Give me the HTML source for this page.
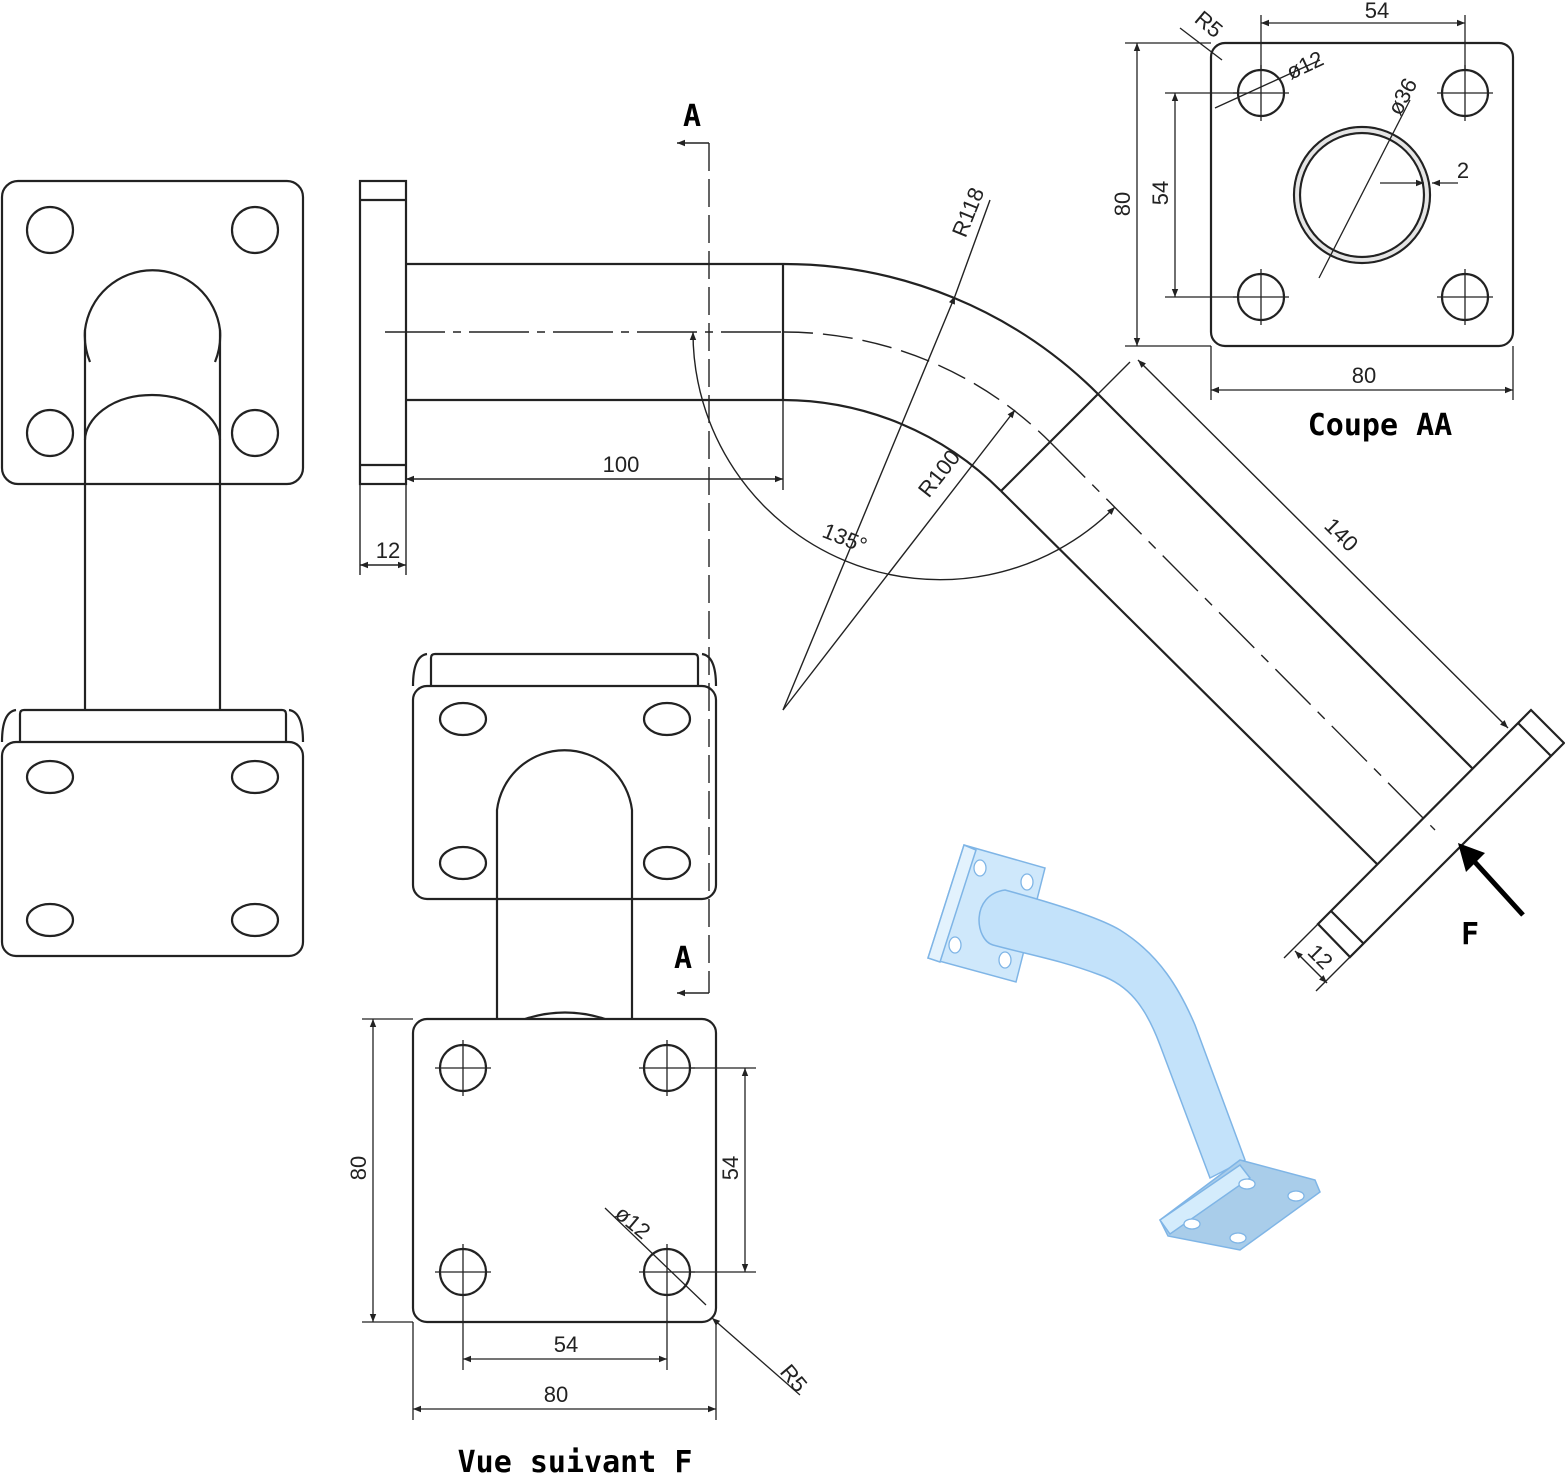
<!DOCTYPE html>
<html><head><meta charset="utf-8"><style>
html,body{margin:0;padding:0;background:#fff}
svg{display:block}
text{font-family:"Liberation Sans","DejaVu Sans",sans-serif;fill:#222}
.t{font-size:22px}
.b{font-family:"DejaVu Sans Mono","Liberation Mono",monospace;font-weight:bold;font-size:30px;fill:#000}
</style></head><body>
<svg width="1565" height="1474" viewBox="0 0 1565 1474" xmlns="http://www.w3.org/2000/svg">
<defs>
<marker id="a" viewBox="0 0 10 10" refX="10" refY="5" markerWidth="10" markerHeight="8" orient="auto-start-reverse" markerUnits="userSpaceOnUse"><path d="M0,1 L10,5 L0,9 z" fill="#222"/></marker>
</defs>
<g fill="none" stroke="#222" stroke-width="2.2">
<rect x="2" y="181" width="301" height="303" rx="16"/>
<circle cx="50" cy="230" r="23"/><circle cx="255" cy="230" r="23"/>
<circle cx="50" cy="433" r="23"/><circle cx="255" cy="433" r="23"/>
<path d="M90,362 A70,70 0 0 1 85,330 A68,68 0 0 1 220,330 A70,70 0 0 1 215,362"/>
<path d="M85,330 V710 M220,330 V710"/>
<path d="M85,440 C85,420 110,395 152,395 C194,395 220,420 220,440"/>
<path d="M20,742 V714 Q20,710 24,710 H282 Q286,710 286,714 V742"/>
<path d="M2,742 Q2,712 16,710 M303,742 Q303,712 289,710"/>
<rect x="2" y="742" width="301" height="214" rx="14"/>
<ellipse cx="50" cy="777" rx="23" ry="16"/><ellipse cx="255" cy="777" rx="23" ry="16"/>
<ellipse cx="50" cy="920" rx="23" ry="16"/><ellipse cx="255" cy="920" rx="23" ry="16"/>

<rect x="360" y="181" width="46" height="303"/>
<path d="M360,200 H406 M360,465 H406"/>
<path d="M406,264 H783 M406,400 H783 M783,264 V400"/>
<path d="M783,264 A445,445 0 0 1 1098,394"/>
<path d="M783,400 A309,309 0 0 1 1001,491"/>
<path d="M1001,491 L1098,394"/>
<path d="M1098,394 L1472,768 M1001,491 L1378,865"/>
<path d="M1531,710 L1564,743 L1350,957 L1318,924 Z"/>
<path d="M1518,723 L1551,756 M1331,911 L1363,943"/>
</g>
<g fill="none" stroke="#222" stroke-width="1.4">
<path d="M385,332 H783" stroke-dasharray="60,8,8,8"/>
<path d="M783,332 A377,377 0 0 1 1050,442" stroke-dasharray="30,10"/>
<path d="M1050,442 L1435,830" stroke-dasharray="50,10,10,10"/>
<path d="M709,143 V993" stroke-dasharray="28,8"/>
<path d="M709,143 H677" marker-end="url(#a)"/>
<path d="M709,993 H677" marker-end="url(#a)"/>
<path d="M406,479 H783" marker-start="url(#a)" marker-end="url(#a)"/>
<path d="M783,400 V490 M406,484 V575 M360,484 V575"/>
<path d="M360,565 H406" marker-start="url(#a)" marker-end="url(#a)"/>
<path d="M955,296 L990,200"/>
<path d="M783,710 L1015,410" marker-end="url(#a)"/>
<path d="M783,710 L955,296" marker-end="url(#a)"/>
<path d="M693,332 A247,247 0 0 0 1115,507" marker-start="url(#a)" marker-end="url(#a)"/>
<path d="M1098,394 L1130,362 M1531,710 L1505,736"/>
<path d="M1138,360 L1508,728" marker-start="url(#a)" marker-end="url(#a)"/>
<path d="M1318,924 L1284,958 M1350,957 L1316,991"/>
<path d="M1295,951 L1327,983" marker-start="url(#a)" marker-end="url(#a)"/>
</g>
<path d="M1523,915 L1473,860" stroke="#000" stroke-width="5"/>
<path d="M1458,843 L1485,853 L1466,872 Z" fill="#000"/>
<text class="t" x="621" y="472" text-anchor="middle">100</text>
<text class="t" x="388" y="558" text-anchor="middle">12</text>
<text class="t" transform="translate(975,215) rotate(-68)" text-anchor="middle">R118</text>
<text class="t" transform="translate(945,478) rotate(-52)" text-anchor="middle">R100</text>
<text class="t" transform="translate(842,545) rotate(22)" text-anchor="middle">135°</text>
<text class="t" transform="translate(1336,540) rotate(45)" text-anchor="middle">140</text>
<text class="t" transform="translate(1315,962) rotate(45)" text-anchor="middle">12</text>
<text class="b" x="692" y="126" text-anchor="middle">A</text>
<text class="b" x="683" y="968" text-anchor="middle">A</text>
<text class="b" x="1470" y="944" text-anchor="middle">F</text>

<g fill="none" stroke="#222" stroke-width="2.2">
<rect x="1211" y="43" width="302" height="303" rx="14"/>
<circle cx="1261" cy="93" r="23"/><circle cx="1465" cy="93" r="23"/>
<circle cx="1261" cy="297" r="23"/><circle cx="1465" cy="297" r="23"/>
<circle cx="1362" cy="195" r="68"/><circle cx="1362" cy="195" r="62"/>
</g>
<circle cx="1362" cy="195" r="65" fill="none" stroke="#ccc" stroke-width="4" opacity="0.5"/>
<g fill="none" stroke="#222" stroke-width="1.3">
<path d="M1233,93 H1289 M1261,65 V121 M1437,93 H1493 M1465,65 V121 M1233,297 H1289 M1261,269 V325 M1437,297 H1493 M1465,269 V325"/>
<path d="M1261,15 V70 M1465,15 V70"/>
<path d="M1261,23 H1465" marker-start="url(#a)" marker-end="url(#a)"/>
<path d="M1211,346 V400 M1513,346 V400"/>
<path d="M1211,390 H1513" marker-start="url(#a)" marker-end="url(#a)"/>
<path d="M1125,43 H1211 M1125,346 H1211"/>
<path d="M1137,43 V346" marker-start="url(#a)" marker-end="url(#a)"/>
<path d="M1165,93 H1238 M1165,297 H1238"/>
<path d="M1175,93 V297" marker-start="url(#a)" marker-end="url(#a)"/>
<path d="M1319,278 L1410,100"/>
<path d="M1180,28 L1222,60"/>
<path d="M1215,108 L1320,60"/>
<path d="M1380,183 L1424,183" marker-end="url(#a)"/>
<path d="M1458,183 H1432" marker-end="url(#a)"/>
</g>
<text class="t" x="1377" y="18" text-anchor="middle">54</text>
<text class="t" x="1364" y="383" text-anchor="middle">80</text>
<text class="t" transform="translate(1130,204) rotate(-90)" text-anchor="middle">80</text>
<text class="t" transform="translate(1168,193) rotate(-90)" text-anchor="middle">54</text>
<text class="t" transform="translate(1204,30) rotate(40)" text-anchor="middle">R5</text>
<text class="t" transform="translate(1308,72) rotate(-25)" text-anchor="middle">ø12</text>
<text class="t" transform="translate(1409,100) rotate(-62)" text-anchor="middle">ø36</text>
<text class="t" x="1463" y="178" text-anchor="middle">2</text>
<text class="b" x="1380" y="435" text-anchor="middle">Coupe AA</text>

<g fill="none" stroke="#222" stroke-width="2.2">
<path d="M431,686 V658 Q431,654 435,654 H694 Q698,654 698,658 V686"/>
<path d="M413,686 Q413,656 427,654 M716,686 Q716,656 702,654"/>
<rect x="413" y="686" width="303" height="213" rx="14"/>
<ellipse cx="463" cy="719" rx="23" ry="16"/><ellipse cx="667" cy="719" rx="23" ry="16"/>
<ellipse cx="463" cy="863" rx="23" ry="16"/><ellipse cx="667" cy="863" rx="23" ry="16"/>
<path d="M497,899 V810 A68,68 0 0 1 632,810 V899"/>
<path d="M497,899 V1019 M632,899 V1019"/>
<path d="M525,1019 Q565,1006 605,1019"/>
<rect x="413" y="1019" width="303" height="303" rx="14"/>
<circle cx="463" cy="1068" r="23"/><circle cx="667" cy="1068" r="23"/>
<circle cx="463" cy="1272" r="23"/><circle cx="667" cy="1272" r="23"/>
</g>
<g fill="none" stroke="#222" stroke-width="1.3">
<path d="M435,1068 H491 M463,1040 V1096 M639,1068 H695 M667,1040 V1096 M435,1272 H491 M463,1244 V1300 M639,1272 H695 M667,1244 V1300"/>
<path d="M362,1019 H413 M362,1322 H413"/>
<path d="M373,1019 V1322" marker-start="url(#a)" marker-end="url(#a)"/>
<path d="M690,1068 H756 M690,1272 H756"/>
<path d="M745,1068 V1272" marker-start="url(#a)" marker-end="url(#a)"/>
<path d="M463,1300 V1370 M667,1300 V1370"/>
<path d="M463,1359 H667" marker-start="url(#a)" marker-end="url(#a)"/>
<path d="M413,1322 V1420 M716,1322 V1420"/>
<path d="M413,1409 H716" marker-start="url(#a)" marker-end="url(#a)"/>
<path d="M605,1208 L706,1305"/>
<path d="M800,1395 L712,1318" marker-end="url(#a)"/>
</g>
<text class="t" x="566" y="1352" text-anchor="middle">54</text>
<text class="t" x="556" y="1402" text-anchor="middle">80</text>
<text class="t" transform="translate(366,1168) rotate(-90)" text-anchor="middle">80</text>
<text class="t" transform="translate(738,1168) rotate(-90)" text-anchor="middle">54</text>
<text class="t" transform="translate(628,1228) rotate(40)" text-anchor="middle">ø12</text>
<text class="t" transform="translate(788,1383) rotate(50)" text-anchor="middle">R5</text>
<text class="b" x="575" y="1472" text-anchor="middle">Vue suivant F</text>

<g stroke="#7fb5e6" stroke-width="1.5">
<path d="M964,845 L1045,868 L1016,982 L928,958 Z" fill="#cfe8fb"/>
<path d="M964,845 L976,850 L940,962 L928,958 Z" fill="#e3f2fd"/>
<path d="M1005,890 C1060,905 1100,918 1120,930 C1160,955 1180,990 1195,1025 L1245,1160 L1210,1178 L1160,1045 C1145,1005 1128,985 1100,975 C1060,960 1030,955 993,945 C975,940 970,895 1005,890 Z" fill="#c3e2fa"/>
<path d="M1240,1160 L1315,1180 L1320,1192 L1240,1250 L1168,1236 L1160,1220 Z" fill="#a9cdea"/>
<path d="M1160,1220 L1240,1165 L1250,1178 L1170,1234 Z" fill="#d4ecfc"/>
</g>
<g fill="#fff" stroke="#7fb5e6" stroke-width="1.3">
<ellipse cx="980" cy="868" rx="6" ry="8"/><ellipse cx="1027" cy="882" rx="6" ry="8"/>
<ellipse cx="955" cy="945" rx="6" ry="8"/><ellipse cx="1005" cy="960" rx="6" ry="8"/>
<ellipse cx="1247" cy="1184" rx="8" ry="5"/><ellipse cx="1296" cy="1196" rx="8" ry="5"/>
<ellipse cx="1192" cy="1224" rx="8" ry="5"/><ellipse cx="1238" cy="1238" rx="8" ry="5"/>
</g>
</svg>
</body></html>
